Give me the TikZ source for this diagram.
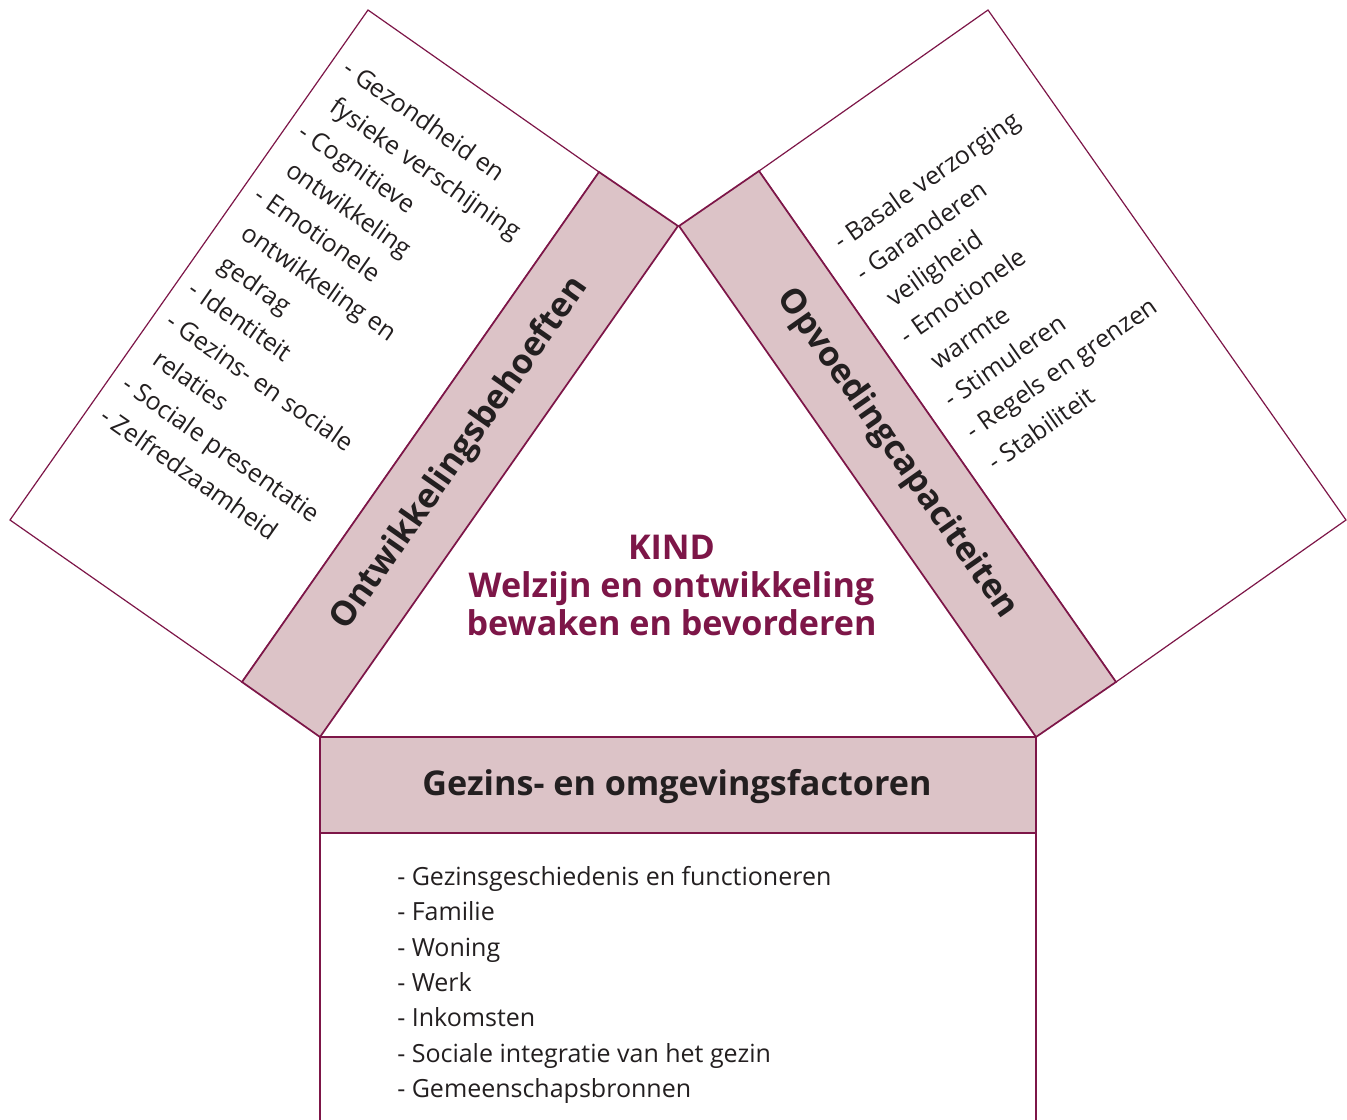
\documentclass[tikz,border=0pt]{standalone}
\usepackage{fontspec}
\setmainfont{Open Sans}
\usepackage{xcolor}
\definecolor{wine}{RGB}{125,22,72}
\definecolor{bandrose}{RGB}{220,195,199}
\definecolor{inkgray}{RGB}{35,31,32}
\newcommand{\ind}{\hspace*{0.45em}}

\begin{document}
\begin{tikzpicture}[x=0.75pt,y=0.75pt,yscale=-1,xscale=1]
\tikzset{
  panel/.style={draw=wine, fill=white, line width=0.9pt},
  band/.style={draw=wine, fill=bandrose, line width=1.3pt},
  listtext/.style={font=\fontsize{18.75}{28.9}\selectfont, text=inkgray, align=left, inner sep=0pt},
  bandlabel/.style={font=\fontsize{25.6}{28}\selectfont\bfseries, text=inkgray, inner sep=0pt},
}
\useasboundingbox (0,0) rectangle (1347,1120);

% white panels behind the bands
\draw [panel] (242,682) -- (10,520) -- (368,10) -- (599,172) -- cycle;
\draw [panel] (759,171) -- (988,10) -- (1346,520) -- (1116,682) -- cycle;
\draw [panel] (320,1121) -- (320,833) -- (1036,833) -- (1036,1121);

% the three bands round the triangle
\draw [band] (320,737) -- (678,226) -- (599,172) -- (242,682) -- cycle;
\draw [band] (1036,737) -- (679,226) -- (759,171) -- (1116,682) -- cycle;
\draw [band] (320,737) rectangle (1036,833);

% band labels
\draw (460,454) node [bandlabel, rotate=55] (needs) {Ontwikkelingsbehoeften};
\draw (897,454) node [bandlabel, rotate=-55] (capac) {Opvoedingcapaciteiten};
\draw (677,787) node [bandlabel] (family) {Gezins- en omgevingsfactoren};

% centre
\draw (671.5,585) node [font=\fontsize{25.6}{28.5}\selectfont\bfseries, text=wine, align=center, inner sep=0pt] (kind) {KIND\\Welzijn en ontwikkeling\\bewaken en bevorderen};

% lists
\draw (352,57) node [listtext, rotate=-35, anchor=north west] (needslist) {- Gezondheid en\\\ind fysieke verschijning\\- Cognitieve\\\ind ontwikkeling\\- Emotionele\\\ind ontwikkeling en\\\ind gedrag\\- Identiteit\\- Gezins- en sociale\\\ind relaties\\- Sociale presentatie\\- Zelfredzaamheid};
\draw (830,235) node [listtext, rotate=35, anchor=north west] (capaclist) {- Basale verzorging\\- Garanderen\\\ind veiligheid\\- Emotionele\\\ind warmte\\- Stimuleren\\- Regels en grenzen\\- Stabiliteit};
\draw (397,866) node [listtext, font=\fontsize{18.75}{26.5}\selectfont, anchor=north west] (familylist) {- Gezinsgeschiedenis en functioneren\\- Familie\\- Woning\\- Werk\\- Inkomsten\\- Sociale integratie van het gezin\\- Gemeenschapsbronnen};
\end{tikzpicture}
\end{document}
